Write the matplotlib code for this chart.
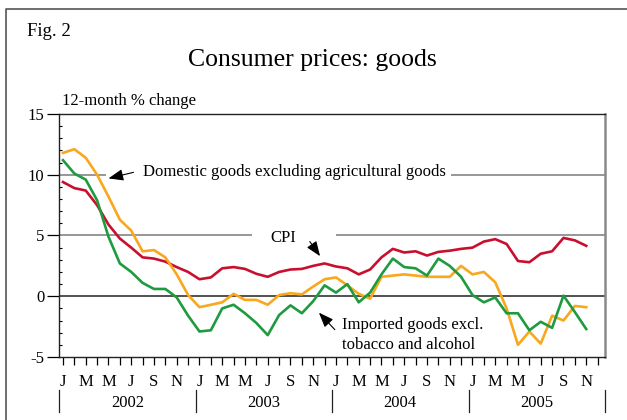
import numpy as np
import matplotlib.pyplot as plt
from matplotlib.lines import Line2D
import matplotlib.transforms as mtransforms

plt.rcParams['font.family'] = ['Liberation Serif', 'DejaVu Serif']
plt.rcParams['axes.unicode_minus'] = False

# --- data: 12-month % change, Jan 2002 - Nov 2005 ---
cpi = [9.4, 8.9, 8.7, 7.5, 5.9, 4.75, 4.0, 3.2, 3.1, 2.85, 2.4, 2.0,
       1.4, 1.55, 2.3, 2.4, 2.25, 1.85, 1.6, 2.0, 2.2, 2.25, 2.5, 2.7,
       2.45, 2.3, 1.8, 2.2, 3.2, 3.9, 3.6, 3.7, 3.35, 3.65, 3.75, 3.9,
       4.0, 4.5, 4.7, 4.3, 2.9, 2.8, 3.5, 3.7, 4.8, 4.6, 4.15]
domestic = [11.8, 12.1, 11.4, 10.0, 8.2, 6.3, 5.4, 3.7, 3.8, 3.2, 1.8, 0.1,
            -0.9, -0.7, -0.5, 0.2, -0.3, -0.3, -0.7, 0.1, 0.25, 0.15, 0.8, 1.4,
            1.55, 0.9, 0.2, -0.2, 1.6, 1.7, 1.8, 1.7, 1.6, 1.6, 1.6, 2.5,
            1.8, 2.0, 1.15, -1.0, -4.0, -2.9, -3.9, -1.6, -2.0, -0.8, -0.9]
imported = [11.2, 10.1, 9.6, 7.9, 4.9, 2.7, 2.0, 1.1, 0.6, 0.6, -0.1, -1.6,
            -2.9, -2.8, -1.0, -0.7, -1.4, -2.2, -3.2, -1.55, -0.75, -1.4, -0.4, 0.9,
            0.3, 1.0, -0.5, 0.3, 1.8, 3.1, 2.4, 2.3, 1.7, 3.1, 2.5, 1.6,
            0.1, -0.5, -0.1, -1.4, -1.4, -2.8, -2.1, -2.6, 0.05, -1.3, -2.7]
years = ['2002', '2003', '2004', '2005']
month_labels = ['J', '', 'M', '', 'M', '', 'J', '', 'S', '', 'N', '']

x = np.arange(len(cpi))

fig = plt.figure(figsize=(6.27, 4.2), dpi=100)
ax = fig.add_axes([59 / 627, 63 / 420, 546 / 627, 243 / 420])

# grid lines (broken where the labels sit)
grey = '#7a7a7a'
ax.hlines(10, -0.35, 3.75, color=grey, lw=1.1, zorder=1)
ax.hlines(10, 34.1, 47.65, color=grey, lw=1.1, zorder=1)
ax.hlines(5, -0.35, 16.6, color=grey, lw=1.1, zorder=1)
ax.hlines(5, 24.0, 47.65, color=grey, lw=1.1, zorder=1)
ax.axhline(0, color='#333333', lw=1.2, zorder=1)

ax.plot(x, cpi, color='#c8102e', lw=1.9, zorder=3)
ax.plot(x, domestic, color='#f9a71c', lw=1.9, zorder=3)
ax.plot(x, imported, color='#1f9b3f', lw=1.9, zorder=4)

ax.set_xlim(-0.35, 47.65)
ax.set_ylim(-5, 15)

# y axis
ax.set_yticks([-5, 0, 5, 10, 15])
ax.set_yticks(np.arange(-5, 16, 1), minor=True)
ax.tick_params(axis='y', which='major', direction='out', length=8.5, width=0.9,
               pad=2, labelsize=12)
ax.tick_params(axis='y', which='minor', direction='in', length=2.5, width=0.8)

# x axis: month ticks
ax.set_xticks(x.tolist() + [47])
ax.set_xticklabels((month_labels * 4)[:48])
ax.tick_params(axis='x', direction='out', length=6, width=0.9, pad=6, labelsize=12)

for s in ['left', 'top', 'bottom']:
    ax.spines[s].set_color('#222222')
    ax.spines[s].set_linewidth(1.0)
ax.spines['right'].set_color('#8a8a8a')
ax.spines['right'].set_linewidth(1.8)

# year labels and separators
trans = mtransforms.blended_transform_factory(ax.transData, ax.transAxes)
for k in range(5):
    ax.plot([12 * k - 0.35] * 2, [-0.135, -0.225], color='#222222', lw=0.9,
            transform=trans, clip_on=False)
for k, yr in enumerate(years):
    ax.text(12 * k + 5.65, -0.19, yr, transform=trans, ha='center', va='center',
            fontsize=12)

# annotations
arrow = dict(arrowstyle='-|>,head_length=0.9,head_width=0.35', color='black',
             lw=0.8, shrinkA=0, shrinkB=0)
ax.annotate('', xy=(4.0, 9.7), xytext=(6.2, 10.2), arrowprops=arrow)
ax.text(7.0, 10.2, 'Domestic goods excluding agricultural goods', fontsize=12,
        ha='left', va='center')
ax.annotate('', xy=(22.6, 3.3), xytext=(21.7, 4.5), arrowprops=arrow)
ax.text(19.4, 4.8, 'CPI', fontsize=12, ha='center', va='center')
ax.annotate('', xy=(22.5, -1.35), xytext=(23.9, -2.75), arrowprops=arrow)
ax.text(24.5, -2.35, 'Imported goods excl.', fontsize=12, ha='left', va='center')
ax.text(24.5, -4.0, 'tobacco and alcohol', fontsize=12, ha='left', va='center')

# titles
fig.text(27 / 627, 1 - 32 / 420, 'Fig. 2', fontsize=13.5, ha='left', va='center')
fig.text(312 / 627, 1 - 60 / 420, 'Consumer prices: goods', fontsize=18.5,
         ha='center', va='center')
fig.text(62 / 627, 1 - 101 / 420, '12-month % change', fontsize=12, ha='left',
         va='center')

# outer frame
fig.add_artist(Line2D([5.8 / 627, 5.8 / 627, 1.0], [0.0, 1 - 9 / 420, 1 - 9 / 420],
                      color='#555555', lw=1.2, transform=fig.transFigure))

fig.savefig('out.png', dpi=100)
